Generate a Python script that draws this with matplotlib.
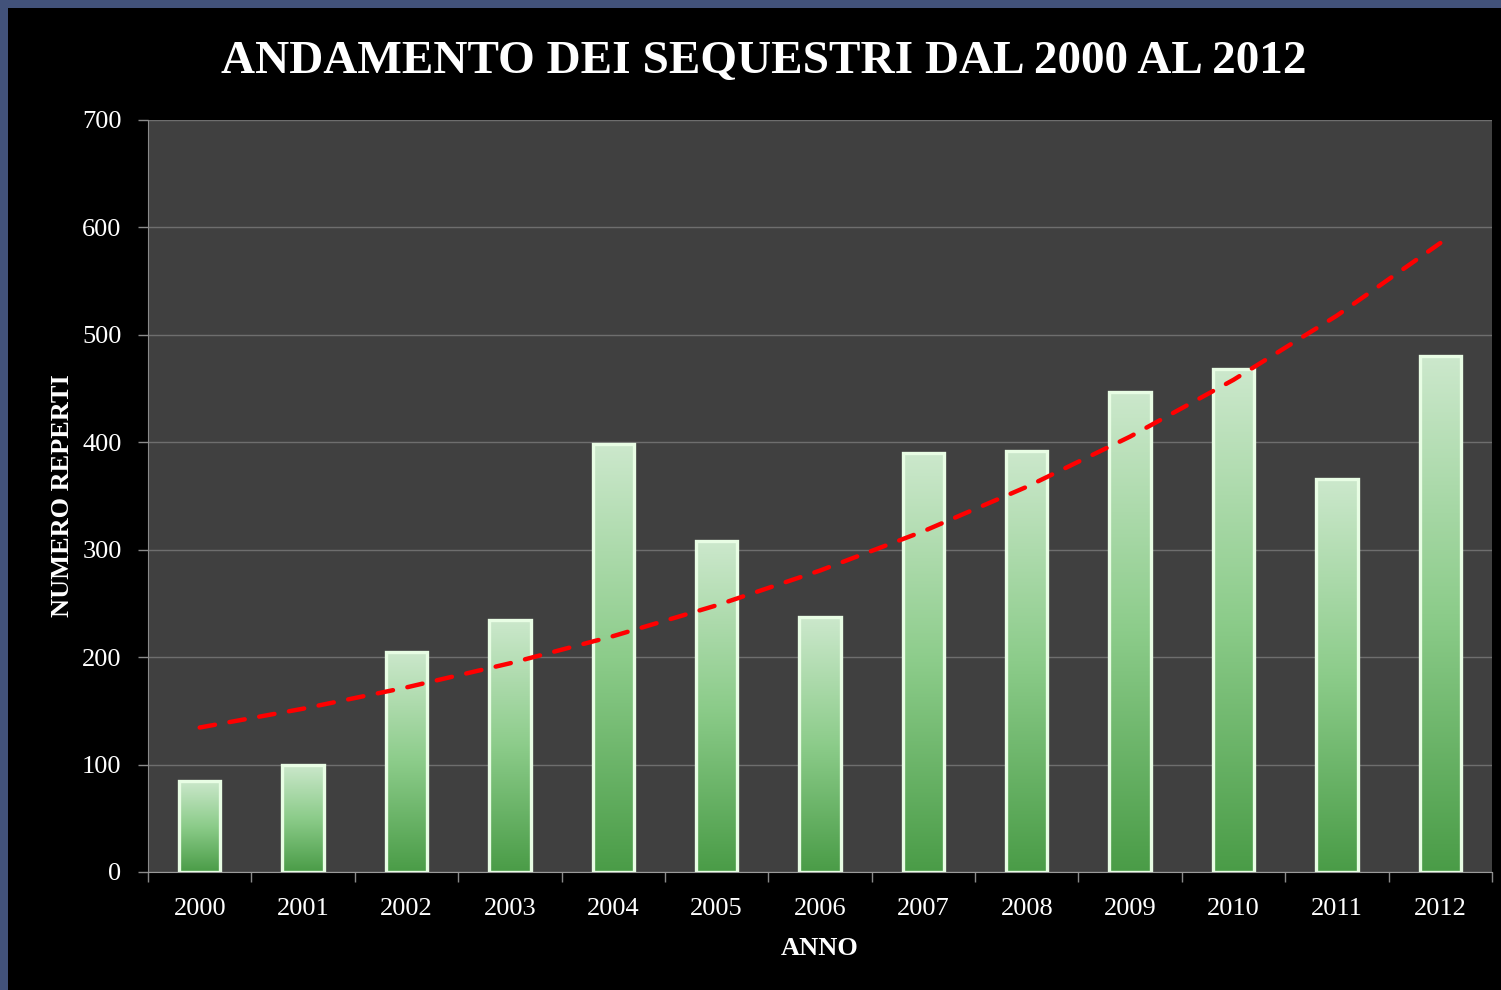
import numpy as np
import matplotlib.pyplot as plt
from matplotlib.colors import LinearSegmentedColormap

anni = ["2000", "2001", "2002", "2003", "2004", "2005", "2006",
        "2007", "2008", "2009", "2010", "2011", "2012"]
reperti = [85, 100, 205, 235, 398, 308, 237, 390, 392, 447, 468, 366, 480]
y_ticks = [0, 100, 200, 300, 400, 500, 600, 700]

x = np.arange(len(anni))

# linea di tendenza esponenziale (come in Excel)
b, a = np.polyfit(x, np.log(reperti), 1)
trend = np.exp(a + b * x)

fig = plt.figure(figsize=(15.01, 9.9), dpi=100)
fig.patch.set_facecolor("#42527a")

# area nera dentro la cornice blu
bg = fig.add_axes([8 / 1501, 0, 1, 1 - 8 / 990], zorder=0)
bg.set_facecolor("black")
bg.set_xticks([])
bg.set_yticks([])
for s in bg.spines.values():
    s.set_visible(False)

ax = fig.add_axes([148 / 1501, 1 - 872 / 990, (1492 - 148) / 1501, (872 - 120) / 990], zorder=1)
ax.set_facecolor("#404040")

serif = "Liberation Serif"

green = LinearSegmentedColormap.from_list("verde", ["#4a9c47", "#8ccc8a", "#cce8cc"])
grad = np.linspace(0, 1, 256).reshape(-1, 1)

bars = ax.bar(x, reperti, width=0.4, facecolor="none", edgecolor="#e8fde4",
              linewidth=2.4, zorder=3)
for bar in bars:
    x0 = bar.get_x()
    w = bar.get_width()
    h = bar.get_height()
    im = ax.imshow(grad, cmap=green, aspect="auto", origin="lower",
                   extent=(x0, x0 + w, 0, h), zorder=2)
    im.set_clip_path(bar)

ax.plot(x, trend, color="#ff0000", linewidth=3.2, linestyle=(0, (3.5, 3.3)),
        dash_capstyle="round", zorder=4)

ax.set_xlim(-0.5, len(anni) - 0.5)
ax.set_ylim(0, 700)
ax.set_yticks(y_ticks)
ax.set_yticklabels([str(v) for v in y_ticks], fontfamily=serif, fontsize=19, color="white")
ax.set_xticks(x)
ax.set_xticklabels(anni, fontfamily=serif, fontsize=19, color="white")
ax.set_xticks(np.arange(-0.5, len(anni), 1), minor=True)
ax.tick_params(axis="x", which="major", length=0, pad=19)
ax.tick_params(axis="x", which="minor", length=7, color="#8a8a8a", width=1)
ax.tick_params(axis="y", length=7, color="#8a8a8a", width=1, pad=12)

ax.grid(axis="y", color="#6e6e6e", linewidth=1, zorder=1)
ax.set_axisbelow(True)
for side in ["top", "right"]:
    ax.spines[side].set_visible(False)
ax.spines["left"].set_color("#8a8a8a")
ax.spines["bottom"].set_color("#9a9a9a")

ax.set_xlabel("ANNO", fontfamily=serif, fontsize=19, fontweight="bold", color="white",
              labelpad=12)
ax.set_ylabel("NUMERO REPERTI", fontfamily=serif, fontsize=19, fontweight="bold",
              color="white", labelpad=6)

fig.text(0.509, 1 - 62 / 990, "ANDAMENTO DEI SEQUESTRI DAL 2000 AL 2012",
         fontfamily=serif, fontsize=34, fontweight="bold", color="white",
         ha="center", va="center")

fig.savefig("out.png", dpi=100, facecolor=fig.get_facecolor())
